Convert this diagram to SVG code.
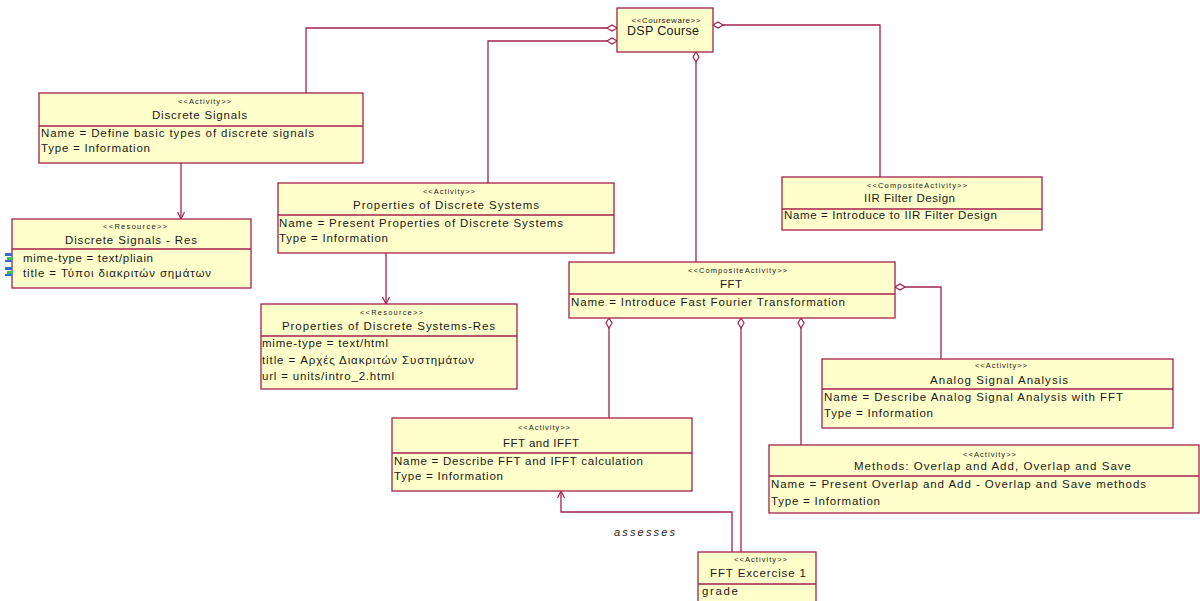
<svg xmlns="http://www.w3.org/2000/svg" width="1200" height="601" viewBox="0 0 1200 601">
<style>
.box{fill:#ffffcb;stroke:#a3224f;stroke-width:1.3}
.sep{stroke:#a3224f;stroke-width:1.3}
.ln{fill:none;stroke:#a3224f;stroke-width:1.3}
text{font-family:"Liberation Sans",Arial,sans-serif;fill:#1a1a1a}
.st{font-size:7.5px;text-anchor:middle}
.ti{font-size:11.5px;text-anchor:middle}
.at{font-size:11.5px}
.lb{font-size:11px;font-style:italic}
</style>
<defs>
<marker id="dia" markerWidth="12" markerHeight="8" refX="0" refY="4" orient="auto" markerUnits="userSpaceOnUse">
<path d="M0,4 L5,1 L10,4 L5,7 Z" fill="#ffffff" stroke="#a3224f" stroke-width="1.2"/>
</marker>
<marker id="arr" markerWidth="10" markerHeight="10" refX="8" refY="5" orient="auto" markerUnits="userSpaceOnUse">
<path d="M1,1.5 L8,5 L1,8.5" fill="none" stroke="#a3224f" stroke-width="1.2"/>
</marker>
</defs>

<g id="connectors">
<path class="ln" marker-start="url(#dia)" d="M617,28 H306 V93"/>
<path class="ln" marker-start="url(#dia)" d="M617,41 H488 V183"/>
<path class="ln" marker-start="url(#dia)" d="M713,25 H880 V177"/>
<path class="ln" marker-start="url(#dia)" d="M696,52 V262"/>
<path class="ln" marker-end="url(#arr)" d="M181,163 V219"/>
<path class="ln" marker-end="url(#arr)" d="M386,253 V304"/>
<path class="ln" marker-start="url(#dia)" d="M609,318 V418"/>
<path class="ln" marker-start="url(#dia)" d="M741,318 V552"/>
<path class="ln" marker-start="url(#dia)" d="M801,318 V445"/>
<path class="ln" marker-start="url(#dia)" d="M895,287 H941 V359"/>
<path class="ln" marker-end="url(#arr)" d="M732,552 V512 H561 V491"/>
<text class="lb" x="614" y="536" textLength="61" lengthAdjust="spacing">assesses</text>
</g>

<g id="dsp-course">
<rect class="box" x="617" y="8" width="96" height="44"/>
<text class="st" x="666" y="23" style="font-size:8px" textLength="69" lengthAdjust="spacing">&lt;&lt;Courseware&gt;&gt;</text>
<text class="ti" x="663" y="35" style="font-size:12.5px" textLength="72" lengthAdjust="spacing">DSP Course</text>
</g>

<g id="discrete-signals">
<rect class="box" x="39" y="93" width="324" height="70"/>
<line class="sep" x1="39" y1="126" x2="363" y2="126"/>
<text class="st" x="204.5" y="103.5" textLength="53" lengthAdjust="spacing">&lt;&lt;Activity&gt;&gt;</text>
<text class="ti" x="199.5" y="119" textLength="95" lengthAdjust="spacing">Discrete Signals</text>
<text class="at" x="41" y="137" textLength="273" lengthAdjust="spacing">Name = Define basic types of discrete signals</text>
<text class="at" x="41" y="152" textLength="109" lengthAdjust="spacing">Type = Information</text>
</g>

<g id="discrete-signals-res">
<rect class="box" x="12" y="219" width="239" height="69"/>
<line class="sep" x1="12" y1="249" x2="251" y2="249"/>
<text class="st" x="135" y="228.5" textLength="64" lengthAdjust="spacing">&lt;&lt;Resource&gt;&gt;</text>
<text class="ti" x="131" y="243.5" textLength="132" lengthAdjust="spacing">Discrete Signals - Res</text>
<g>
<rect x="5" y="253" width="7" height="3" fill="#2a6fd6"/>
<rect x="7" y="257" width="6" height="3" fill="#3fbf5a"/>
<rect x="5" y="260" width="7" height="2" fill="#2a6fd6"/>
<rect x="5" y="267" width="7" height="3" fill="#2a6fd6"/>
<rect x="7" y="271" width="6" height="3" fill="#3fbf5a"/>
<rect x="5" y="274" width="7" height="2" fill="#2a6fd6"/>
</g>
<text class="at" x="23" y="262" textLength="130" lengthAdjust="spacing">mime-type = text/pliain</text>
<text class="at" x="23" y="276.5" textLength="188" lengthAdjust="spacing">title = Τύποι διακριτών σημάτων</text>
</g>

<g id="properties-of-discrete-systems">
<rect class="box" x="278" y="183" width="336" height="70"/>
<line class="sep" x1="278" y1="215" x2="614" y2="215"/>
<text class="st" x="449" y="194" textLength="52" lengthAdjust="spacing">&lt;&lt;Activity&gt;&gt;</text>
<text class="ti" x="446" y="208.5" textLength="186" lengthAdjust="spacing">Properties of Discrete Systems</text>
<text class="at" x="279" y="226.5" textLength="284" lengthAdjust="spacing">Name = Present Properties of Discrete Systems</text>
<text class="at" x="279" y="241.5" textLength="109" lengthAdjust="spacing">Type = Information</text>
</g>

<g id="properties-res">
<rect class="box" x="261" y="304" width="256" height="85"/>
<line class="sep" x1="261" y1="336" x2="517" y2="336"/>
<text class="st" x="391.5" y="315" textLength="63" lengthAdjust="spacing">&lt;&lt;Resource&gt;&gt;</text>
<text class="ti" x="388.5" y="329.5" textLength="213" lengthAdjust="spacing">Properties of Discrete Systems-Res</text>
<text class="at" x="262" y="347" textLength="126" lengthAdjust="spacing">mime-type = text/html</text>
<text class="at" x="262" y="363.5" textLength="212" lengthAdjust="spacing">title = Αρχές Διακριτών Συστημάτων</text>
<text class="at" x="262" y="380" textLength="132" lengthAdjust="spacing">url = units/intro_2.html</text>
</g>

<g id="fft">
<rect class="box" x="569" y="262" width="326" height="56"/>
<line class="sep" x1="569" y1="294" x2="895" y2="294"/>
<text class="st" x="737.5" y="273" textLength="99" lengthAdjust="spacing">&lt;&lt;CompositeActivity&gt;&gt;</text>
<text class="ti" x="731" y="287.5" textLength="22" lengthAdjust="spacing">FFT</text>
<text class="at" x="571" y="305.5" textLength="274" lengthAdjust="spacing">Name = Introduce Fast Fourier Transformation</text>
</g>

<g id="iir-filter-design">
<rect class="box" x="782" y="177" width="260" height="53"/>
<line class="sep" x1="782" y1="209" x2="1042" y2="209"/>
<text class="st" x="917" y="188" textLength="100" lengthAdjust="spacing">&lt;&lt;CompositeActivity&gt;&gt;</text>
<text class="ti" x="909.5" y="201.5" textLength="91" lengthAdjust="spacing">IIR Filter Design</text>
<text class="at" x="784" y="219" textLength="213" lengthAdjust="spacing">Name = Introduce to IIR Filter Design</text>
</g>

<g id="analog-signal-analysis">
<rect class="box" x="822" y="359" width="351" height="69"/>
<line class="sep" x1="822" y1="389" x2="1173" y2="389"/>
<text class="st" x="1001" y="368" textLength="52" lengthAdjust="spacing">&lt;&lt;Activity&gt;&gt;</text>
<text class="ti" x="999" y="383.5" textLength="138" lengthAdjust="spacing">Analog Signal Analysis</text>
<text class="at" x="824" y="400.5" textLength="299" lengthAdjust="spacing">Name = Describe Analog Signal Analysis with FFT</text>
<text class="at" x="824" y="416.5" textLength="109" lengthAdjust="spacing">Type = Information</text>
</g>

<g id="methods-overlap">
<rect class="box" x="769" y="445" width="430" height="68"/>
<line class="sep" x1="769" y1="476" x2="1199" y2="476"/>
<text class="st" x="989.5" y="457" textLength="53" lengthAdjust="spacing">&lt;&lt;Activity&gt;&gt;</text>
<text class="ti" x="992.5" y="470" textLength="277" lengthAdjust="spacing">Methods: Overlap and Add, Overlap and Save</text>
<text class="at" x="771" y="488" textLength="375" lengthAdjust="spacing">Name = Present Overlap and Add - Overlap and Save methods</text>
<text class="at" x="771" y="504.5" textLength="109" lengthAdjust="spacing">Type = Information</text>
</g>

<g id="fft-and-ifft">
<rect class="box" x="392" y="418" width="300" height="73"/>
<line class="sep" x1="392" y1="453" x2="692" y2="453"/>
<text class="st" x="544" y="429.5" textLength="52" lengthAdjust="spacing">&lt;&lt;Activity&gt;&gt;</text>
<text class="ti" x="541" y="446.5" textLength="76" lengthAdjust="spacing">FFT and IFFT</text>
<text class="at" x="394" y="464.5" textLength="249" lengthAdjust="spacing">Name = Describe FFT and IFFT calculation</text>
<text class="at" x="394" y="479.5" textLength="109" lengthAdjust="spacing">Type = Information</text>
</g>

<g id="fft-excercise-1">
<rect class="box" x="698" y="552" width="118" height="60"/>
<line class="sep" x1="698" y1="584" x2="816" y2="584"/>
<text class="st" x="760.5" y="562" textLength="53" lengthAdjust="spacing">&lt;&lt;Activity&gt;&gt;</text>
<text class="ti" x="758" y="576.5" textLength="96" lengthAdjust="spacing">FFT Excercise 1</text>
<text class="at" x="702" y="594.5" textLength="36" lengthAdjust="spacing">grade</text>
</g>
</svg>
